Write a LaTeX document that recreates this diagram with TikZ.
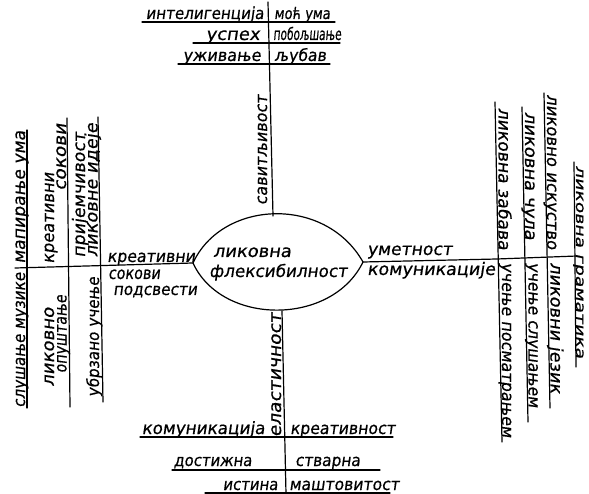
\documentclass[tikz,border=0pt]{standalone}
\usepackage{fontspec}
\usepackage{graphicx}
\setmainfont{DejaVu Sans}
\newfontfamily\hand{DejaVu Sans}[FakeSlant=0.15, FakeBold=0.6]
\newsavebox\hwbox
\newcommand\hw[3][0]{%
  \sbox\hwbox{\fontsize{17}{19}\hand #3}%
  \pgfmathsetmacro\hwsx{#2/\the\wd\hwbox}%
  \ifdim #1pt=0pt
    \pgfmathsetmacro\hwsy{max(0.85,min(1.05,\hwsx^0.25))}%
  \else
    \def\hwsy{#1}%
  \fi
  \scalebox{\hwsx}[\hwsy]{\usebox\hwbox}}
\begin{document}
\begin{tikzpicture}[x=1pt,y=-1pt,
  ln/.style={line width=1.2pt, line cap=round, line join=round},
  tx/.style={inner sep=0pt, text=black},
]
\useasboundingbox (0,0) rectangle (589,494);
% ---------- centre lens ----------
\coordinate (lensL) at (193,263);
\coordinate (lensR) at (363,262);
\coordinate (lensT) at (273,216);
\coordinate (lensB) at (282,311);
\draw[ln] (lensL) .. controls (222,200) and (325,195) .. (lensR)
          .. controls (332,326) and (222,326) .. (lensL);
\node[tx, anchor=base west] (lik) at (213,257) {\hw{78}{ликовна}};
\node[tx, anchor=base west] (flex) at (209,277) {\hw{138}{флексибилност}};
% ---------- top ----------
\coordinate (tTop) at (268,2);
\draw[ln] (tTop) -- (lensT);
\coordinate (u1a) at (142,22); \coordinate (u1b) at (335,22);
\coordinate (u2a) at (193,43); \coordinate (u2b) at (340,43);
\coordinate (u3a) at (178,64); \coordinate (u3b) at (330,64);
\draw[ln] (u1a) -- (u1b);
\draw[ln] (u2a) -- (u2b);
\draw[ln] (u3a) -- (u3b);
\node[tx, anchor=base east] (intel) at (264,19) {\hw{118}{интелигенција}};
\node[tx, anchor=base west] (moc) at (274,19) {\hw{56}{моћ ума}};
\node[tx, anchor=base east] (uspeh) at (260,40) {\hw{54}{успех}};
\node[tx, anchor=base west] (pobolj) at (273,40) {\hw[1]{68}{побољшање}};
\node[tx, anchor=base east] (uziv) at (261,61) {\hw{78}{уживање}};
\node[tx, anchor=base west] (ljubav) at (274,61) {\hw{52}{љубав}};
\node[tx, rotate=90, anchor=base] (savit) at (267,150) {\hw{110}{савитљивост}};
% ---------- right ----------
\coordinate (rJ) at (497,259);
\coordinate (rEnd) at (577,256);
\draw[ln] (lensR) -- (rJ) -- (rEnd);
\node[tx, anchor=base west] (umet) at (367,255) {\hw{85}{уметност}};
\node[tx, anchor=base west] (komR) at (367,275) {\hw{128}{комуникације}};
\coordinate (r1a) at (495,102); \coordinate (r1b) at (502,442);
\coordinate (r2a) at (522,107); \coordinate (r2b) at (528,422);
\coordinate (r3a) at (544,93);  \coordinate (r3b) at (550,408);
\coordinate (r4a) at (574,162); \coordinate (r4b) at (576,367);
\draw[ln] (r1a) -- (r1b);
\draw[ln] (r2a) -- (r2b);
\draw[ln] (r3a) -- (r3b);
\draw[ln] (r4a) -- (r4b);
\node[tx, rotate=-90, anchor=base] (zabava) at (498.5,179) {\hw{142}{ликовна забава}};
\node[tx, rotate=-90, anchor=base] (posm) at (502,350) {\hw{175}{учење посматрањем}};
\node[tx, rotate=-90, anchor=base] (cula) at (525,176) {\hw{128}{ликовна чула}};
\node[tx, rotate=-90, anchor=base] (slus) at (528.5,335) {\hw{145}{учење слушањем}};
\node[tx, rotate=-90, anchor=base] (iskus) at (547,172) {\hw{155}{ликовно искуство}};
\node[tx, rotate=-90, anchor=base] (jezik) at (550.5,328) {\hw{131}{ликовни језик}};
\node[tx, rotate=-90, anchor=base] (gram) at (576,262) {\hw[0.8]{193}{ликовна граматика}};
% ---------- left ----------
\coordinate (lStart) at (15,268);
\draw[ln] (lStart) -- (lensL);
\coordinate (l1a) at (27,130); \coordinate (l1b) at (27,408);
\coordinate (l2a) at (67,118); \coordinate (l2b) at (70,407);
\coordinate (l3a) at (98,117); \coordinate (l3b) at (103,402);
\draw[ln] (l1a) -- (l1b);
\draw[ln] (l2a) -- (l2b);
\draw[ln] (l3a) -- (l3b);
\node[tx, rotate=90, anchor=base] (mapir) at (25,197) {\hw{133}{мапирање ума}};
\node[tx, rotate=90, anchor=base] (muz) at (25,340) {\hw{135}{слушање музике}};
\node[tx, rotate=90, anchor=base] (kreat1) at (54,218) {\hw{91}{креативни}};
\node[tx, rotate=90, anchor=base] (sok1) at (66,157) {\hw{67}{сокови}};
\node[tx, rotate=90, anchor=base] (likov) at (54,347) {\hw{79}{ликовно}};
\node[tx, rotate=90, anchor=base] (opus) at (66.5,334) {\hw[1]{78}{опуштање}};
\node[tx, rotate=90, anchor=base] (prij) at (85,195) {\hw{125}{пријемчивост}};
\node[tx, rotate=90, anchor=base] (ideje) at (97.5,190) {\hw{134}{ликовне идеје}};
\node[tx, rotate=90, anchor=base] (ubrz) at (99,337) {\hw{120}{убрзано учење}};
\node[tx, anchor=base west] (kreat2) at (107,262) {\hw{88}{креативни}};
\node[tx, anchor=base west] (sok2) at (108,279) {\hw[1]{52}{сокови}};
\node[tx, anchor=base west] (podsv) at (113,295) {\hw{84}{подсвести}};
% ---------- bottom ----------
\coordinate (bEnd) at (286,494);
\draw[ln] (lensB) -- (bEnd);
\node[tx, rotate=90, anchor=base] (elast) at (281,375) {\hw{124}{еластичност}};
\coordinate (b1a) at (140,437); \coordinate (b1b) at (393,437);
\coordinate (b2a) at (172,470); \coordinate (b2b) at (380,470);
\coordinate (b3a) at (205,493); \coordinate (b3b) at (390,493);
\draw[ln] (b1a) -- (b1b);
\draw[ln] (b2a) -- (b2b);
\draw[ln] (b3a) -- (b3b);
\node[tx, anchor=base east] (komB) at (265,434) {\hw{123}{комуникација}};
\node[tx, anchor=base west] (kreatB) at (290,434) {\hw{105}{креативност}};
\node[tx, anchor=base east] (dost) at (252,466) {\hw{78}{достижна}};
\node[tx, anchor=base west] (stvar) at (295,466) {\hw{65}{стварна}};
\node[tx, anchor=base east] (istina) at (278,490) {\hw{55}{истина}};
\node[tx, anchor=base west] (mast) at (289,490) {\hw{110}{маштовитост}};
\end{tikzpicture}
\end{document}
